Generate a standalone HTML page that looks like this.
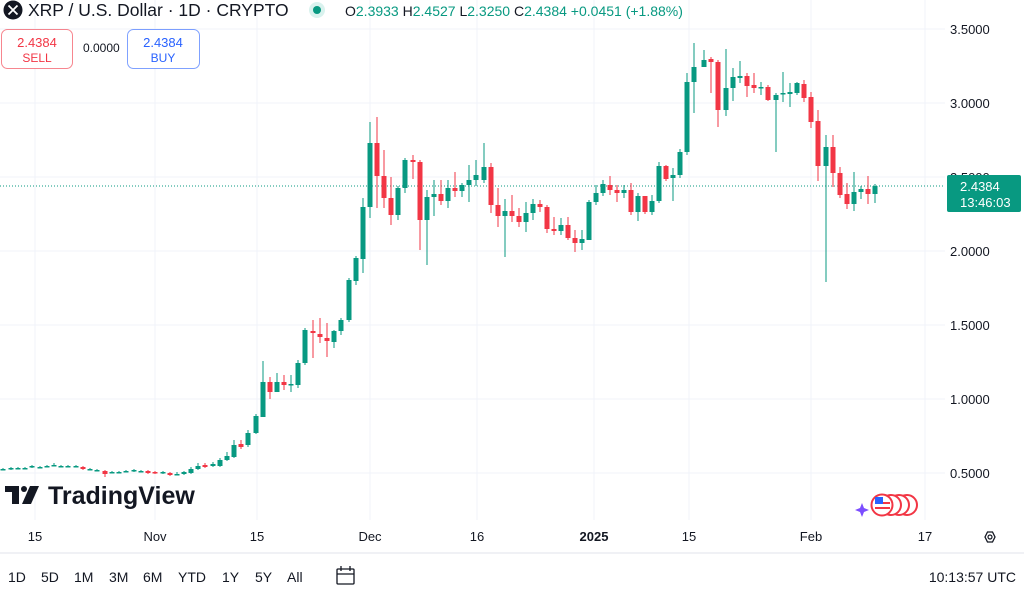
<!DOCTYPE html>
<html><head><meta charset="utf-8"><style>
html,body{margin:0;padding:0;background:#fff;}
body{width:1024px;height:594px;overflow:hidden;position:relative;font-family:"Liberation Sans",sans-serif;color:#131722;}
svg{position:absolute;left:0;top:0;}
</style></head><body>
<svg id="s" width="1024" height="594" viewBox="0 0 1024 594" xmlns="http://www.w3.org/2000/svg" font-family="Liberation Sans, sans-serif">
<g stroke="#f0f3fa" stroke-width="1">
<line x1="35" y1="0" x2="35" y2="520"/><line x1="155" y1="0" x2="155" y2="520"/><line x1="257" y1="0" x2="257" y2="520"/><line x1="370" y1="0" x2="370" y2="520"/><line x1="477" y1="0" x2="477" y2="520"/><line x1="594" y1="0" x2="594" y2="520"/><line x1="689" y1="0" x2="689" y2="520"/><line x1="811" y1="0" x2="811" y2="520"/><line x1="925" y1="0" x2="925" y2="520"/>
<line x1="0" y1="29" x2="945" y2="29"/><line x1="0" y1="103" x2="945" y2="103"/><line x1="0" y1="177" x2="945" y2="177"/><line x1="0" y1="251" x2="945" y2="251"/><line x1="0" y1="325" x2="945" y2="325"/><line x1="0" y1="399" x2="945" y2="399"/><line x1="0" y1="473" x2="945" y2="473"/>
</g>
<line x1="0" y1="186" x2="945" y2="186" stroke="#089981" stroke-width="1" stroke-dasharray="1,2"/>
<g id="c"></g>
<g font-size="13" fill="#131722">
<text x="950" y="34">3.5000</text><text x="950" y="108">3.0000</text><text x="950" y="182">2.5000</text><text x="950" y="256">2.0000</text><text x="950" y="330">1.5000</text><text x="950" y="404">1.0000</text><text x="950" y="478">0.5000</text>
</g>
<rect x="947" y="175" width="74" height="37" rx="2" fill="#089981"/>
<text x="960" y="191" font-size="13" fill="#fff">2.4384</text>
<text x="960" y="207" font-size="13" fill="#fff">13:46:03</text>
<g font-size="13" fill="#131722" text-anchor="middle">
<text x="35" y="541">15</text><text x="155" y="541">Nov</text><text x="257" y="541">15</text><text x="370" y="541">Dec</text><text x="477" y="541">16</text><text x="594" y="541" font-weight="bold">2025</text><text x="689" y="541">15</text><text x="811" y="541">Feb</text><text x="925" y="541">17</text>
</g>
<polygon points="985,537 987.5,532 992.5,532 995,537 992.5,542 987.5,542" fill="none" stroke="#131722" stroke-width="1.3"/>
<circle cx="990" cy="537" r="2" fill="none" stroke="#131722" stroke-width="1.2"/>
<line x1="0" y1="553" x2="1024" y2="553" stroke="#e0e3eb"/>
<g font-size="14" fill="#131722">
<text x="8" y="582">1D</text><text x="41" y="582">5D</text><text x="74" y="582">1M</text><text x="109" y="582">3M</text><text x="143" y="582">6M</text><text x="178" y="582">YTD</text><text x="222" y="582">1Y</text><text x="255" y="582">5Y</text><text x="287" y="582">All</text>
<text x="1016" y="582" text-anchor="end">10:13:57 UTC</text>
</g>
<g stroke="#131722" stroke-width="1.3" fill="none"><rect x="337" y="569" width="17" height="15" rx="1"/><line x1="337" y1="574" x2="354" y2="574"/><line x1="341" y1="566" x2="341" y2="571"/><line x1="350" y1="566" x2="350" y2="571"/></g>
<circle cx="13" cy="10" r="9.5" fill="#131722"/>
<path d="M8.5 5.5 L17.5 14.5 M17.5 5.5 L8.5 14.5" stroke="#fff" stroke-width="1.8"/>
<text x="28" y="16" font-size="17.5" fill="#131722">XRP / U.S. Dollar · 1D · CRYPTO</text>
<circle cx="317" cy="10" r="8" fill="#d9f2ee"/><circle cx="317" cy="10" r="4" fill="#089981"/>
<text x="345" y="16" font-size="14"><tspan fill="#131722">O</tspan><tspan fill="#089981">2.3933 </tspan><tspan fill="#131722">H</tspan><tspan fill="#089981">2.4527 </tspan><tspan fill="#131722">L</tspan><tspan fill="#089981">2.3250 </tspan><tspan fill="#131722">C</tspan><tspan fill="#089981">2.4384 +0.0451 (+1.88%)</tspan></text>
<rect x="1.5" y="29.5" width="71" height="39" rx="6" fill="#fff" stroke="#f23645" stroke-opacity="0.6"/>
<text x="37" y="47" font-size="13" fill="#f23645" text-anchor="middle">2.4384</text>
<text x="37" y="62" font-size="12" fill="#f23645" text-anchor="middle">SELL</text>
<text x="83" y="52" font-size="12" fill="#131722">0.0000</text>
<rect x="127.5" y="29.5" width="72" height="39" rx="6" fill="#fff" stroke="#2962ff" stroke-opacity="0.6"/>
<text x="163" y="47" font-size="13" fill="#2962ff" text-anchor="middle">2.4384</text>
<text x="163" y="62" font-size="12" fill="#2962ff" text-anchor="middle">BUY</text>
<g fill="#131722"><rect x="5" y="486" width="14" height="6"/><rect x="12" y="486" width="7" height="18"/><circle cx="24" cy="489" r="3"/><polygon points="30,486 39,486 31,504 22,504"/></g>
<text x="48" y="504" font-size="25" font-weight="bold" fill="#131722">TradingView</text>
<g><circle cx="907" cy="505" r="10" fill="#fff" stroke="#f23645" stroke-width="2"/><circle cx="899" cy="505" r="10" fill="#fff" stroke="#f23645" stroke-width="2"/><circle cx="891" cy="505" r="10" fill="#fff" stroke="#f23645" stroke-width="2"/><circle cx="882" cy="505" r="10.5" fill="#fff" stroke="#f23645" stroke-width="2"/><rect x="875" y="502" width="15" height="2" fill="#f23645"/><rect x="875" y="507" width="15" height="2" fill="#f23645"/><rect x="875" y="497" width="8" height="7" fill="#2962ff"/><path d="M862 503 L864 508 L869 510 L864 512 L862 517 L860 512 L855 510 L860 508Z" fill="#7b4dff"/></g>
</svg>
<script>
var G='#089981',R='#f23645';
var d=[
[263,417,382,361,417],[270,382,392,377,399],[277,392,382,373,392],[284,382,385,375,390],[291,384,384,375,392],
[298,385,363,360,388],[305,363,330,328,365],[313,331,333,320,358],[320,334,337,318,343],[327,338,341,323,357],
[334,342,331,330,348],[341,331,320,318,335],[349,320,280,278,322],[356,281,258,256,285],[363,259,207,198,273],
[370,207,143,122,218],[377,143,176,117,208],[384,176,198,150,208],[391,198,215,177,225],[398,215,188,186,220],
[405,188,160,158,193],[413,160,162,155,179],[420,162,220,160,250],[427,220,197,190,265],[434,197,194,180,216],
[441,194,201,180,205],[448,201,188,180,208],[455,188,191,172,197],[462,191,185,183,197],[469,185,180,165,202],
[476,180,175,160,186],[484,180,167,143,183],[491,167,205,163,213],[498,205,216,188,227],[505,216,211,199,257],
[512,211,216,195,222],[519,216,222,208,227],[526,222,213,202,232],[533,213,204,199,220],[540,204,207,200,212],
[547,207,229,205,233],[554,229,231,217,235],[561,231,225,218,235],[568,225,238,217,240],[575,238,243,230,252],
[582,243,239,230,250],[589,240,202,200,240],[596,202,193,185,205],[603,193,184,180,196],[610,185,190,176,195],
[617,190,193,185,202],[624,193,190,185,198],[631,190,212,183,215],[638,212,196,193,221],[645,196,212,196,214],
[652,212,201,195,215],[659,201,166,162,203],[666,166,179,165,181],[673,178,175,168,201],[680,175,152,149,178],
[687,152,82,73,155],[694,82,67,43,113],[704,67,60,50,67],[711,59,62,57,93],[718,62,110,60,127],
[726,110,88,49,116],[733,88,77,68,101],[740,78,76,61,83],[747,76,86,73,97],[754,85,88,73,93],
[761,88,87,82,95],[768,87,100,85,101],[776,100,95,93,152],[783,94,93,72,102],[790,94,92,83,107],
[797,93,83,82,95],[804,84,98,80,102],[811,97,122,92,128],[818,121,166,110,181],[826,166,147,135,282],
[833,147,173,135,187],[840,173,195,167,198],[847,194,204,183,209],[854,204,192,172,211],[861,192,189,186,199],
[868,189,194,176,204],[875,194,186,184,203]];
var L=[[256,433,416,414,434],[248,445,433,430,447],[241,444,447,440,449],[234,457,445,440,458],[227,460,456,452,461],[220,466,460,458,467],[213,466,464,462,467],[205,465,467,463,468],[198,469,466,463,470],[191,473,469,467,474],[184,474,472,471,475],[177,474,474,472,475],[170,473,475,472,476],[163,472,472,471,474],[155,472,473,471,474],[148,471,473,470,474],[141,471,471,470,472],[134,471,470,469,472],[126,471,471,470,472],[119,472,472,471,473],[112,472,472,471,473],[105,471,474,470,477],[97,470,470,469,471],[90,469,469,468,470],[83,467,469,466,470],[76,466,466,465,467],[68,466,466,465,467],[61,466,466,465,467],[54,465,465,463,466],[47,466,466,465,467],[40,467,467,466,468],[32,467,466,465,468],[25,468,468,467,469],[18,468,468,467,469],[11,469,468,467,470],[3,469,469,468,470]];
d=L.concat(d);
var h='';
d.forEach(function(c){var x=c[0],o=c[1],cl=c[2],hi=c[3],lo=c[4];var col=cl<o?G:(cl>o?R:G);
var t=Math.min(o,cl),b=Math.max(o,cl);if(b-t<1.5){b=t+1.5;}
h+='<line x1="'+x+'" y1="'+hi+'" x2="'+x+'" y2="'+lo+'" stroke="'+col+'" stroke-width="1"/>';
h+='<rect x="'+(x-2.5)+'" y="'+t+'" width="5" height="'+(b-t)+'" fill="'+col+'"/>';});
document.getElementById('c').innerHTML=h;
</script>
</body></html>
